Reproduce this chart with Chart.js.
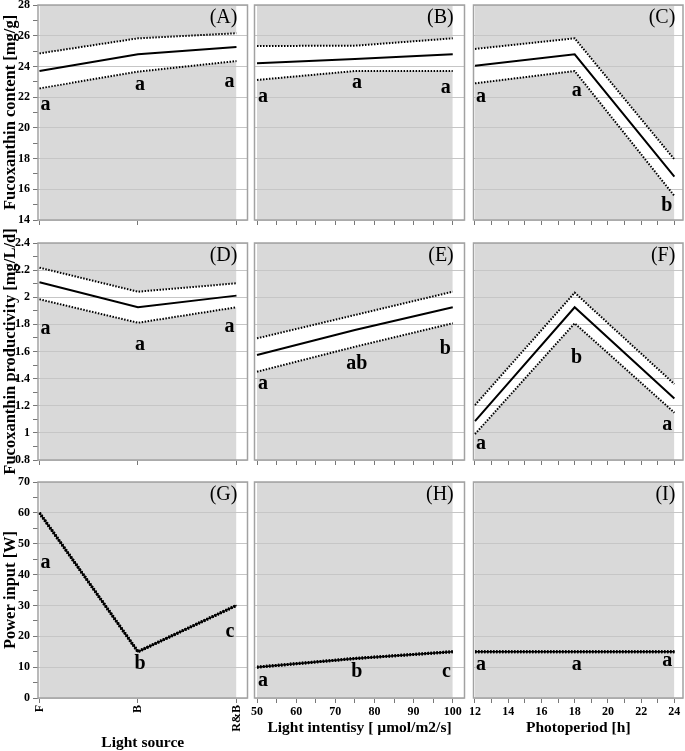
<!DOCTYPE html>
<html>
<head>
<meta charset="utf-8">
<script src="https://cdn.jsdelivr.net/npm/chart.js@4.4.0/dist/chart.umd.min.js"></script>
<style>
  html, body { margin: 0; padding: 0; background: #fff; }
  #wrap { position: relative; width: 685px; height: 751px; }
  #wrap canvas { position: absolute; left: 0; top: 0; }
</style>
</head>
<body>
<div id="wrap"></div>
<script>
// factor levels (x axes)
const lightSources = ['F', 'B', 'R&B'];
const lightIntensity = [50, 75, 100];
const photoperiod = [12, 18, 24];
const intensityTicks = [50, 60, 70, 80, 90, 100];
const periodTicks = [12, 14, 16, 18, 20, 22, 24];

// fucoxanthin content [mg/g], one inner array per factor (source, intensity, photoperiod)
const contentMean  = [[23.70, 24.79, 25.27], [24.20, 24.48, 24.79], [24.05, 24.79, 16.82]];
const contentUpper = [[24.85, 25.83, 26.16], [25.33, 25.35, 25.83], [25.14, 25.83, 17.95]];
const contentLower = [[22.57, 23.66, 24.35], [23.12, 23.70, 23.70], [22.90, 23.70, 15.57]];
const contentLetters = [['a', 'a', 'a'], ['a', 'a', 'a'], ['a', 'a', 'b']];
const contentLetterAt = [[21.5, 22.8, 23.0], [22.0, 22.9, 22.6], [22.0, 22.4, 14.9]];
const contentTicks = [14, 16, 18, 20, 22, 24, 26, 28];

// fucoxanthin productivity [mg/L/d]
const prodMean  = [[2.110, 1.926, 2.012], [1.574, 1.758, 1.926], [1.087, 1.926, 1.254]];
const prodUpper = [[2.218, 2.041, 2.103], [1.697, 1.869, 2.041], [1.205, 2.034, 1.360]];
const prodLower = [[1.985, 1.812, 1.926], [1.451, 1.635, 1.808], [0.991, 1.808, 1.149]];
const prodLetters = [['a', 'a', 'a'], ['a', 'ab', 'b'], ['a', 'b', 'a']];
const prodLetterAt = [[1.77, 1.65, 1.78], [1.365, 1.51, 1.62], [0.92, 1.55, 1.06]];
const prodTicks = [0.8, 1, 1.2, 1.4, 1.6, 1.8, 2, 2.2, 2.4];

// power input [W] (no spread)
const powerMean = [[60, 15, 30], [10, 12.8, 15], [15, 15, 15]];
const powerLetters = [['a', 'b', 'c'], ['a', 'b', 'c'], ['a', 'a', 'a']];
const powerLetterAt = [[43.8, 11.2, 21.4], [5.7, 8.4, 8.4], [10.9, 10.9, 11.9]];
const powerTicks = [0, 10, 20, 30, 40, 50, 60, 70];

const panelTags = [['(A)', '(B)', '(C)'], ['(D)', '(E)', '(F)'], ['(G)', '(H)', '(I)']];

const W = 685, H = 751;
const SERIF = "'Liberation Serif', 'Times New Roman', serif";
const GRAY = '#d9d9d9';

const rows = [
  { title: 'Fucoxanthin content [mg/g]', min: 14, max: 28, minor: 1, ticks: contentTicks,
    mean: contentMean, upper: contentUpper, lower: contentLower, letters: contentLetters, letterAt: contentLetterAt },
  { title: 'Fucoxanthin productivity [mg/L/d]', min: 0.8, max: 2.4, minor: 0.1, ticks: prodTicks,
    mean: prodMean, upper: prodUpper, lower: prodLower, letters: prodLetters, letterAt: prodLetterAt },
  { title: 'Power input [W]', min: 0, max: 70, minor: 5, ticks: powerTicks,
    mean: powerMean, upper: powerMean, lower: powerMean, letters: powerLetters, letterAt: powerLetterAt, thick: true }
];

const cols = [
  { title: 'Light source', levels: lightSources.map((_, i) => i), min: -0.015, max: 2.112,
    tickList: lightSources.map((_, i) => i), label: v => lightSources[Math.round(v)], rotate: true },
  { title: 'Light intentisy [ \u00b5mol/m2/s]', levels: lightIntensity, min: 49.36, max: 103.0, minor: 5,
    tickList: null, major: intensityTicks },
  { title: 'Photoperiod [h]', levels: photoperiod, min: 11.91, max: 24.52, minor: 1,
    tickList: null, major: periodTicks }
];

const colBox = [[38, 247.5], [254.5, 464.5], [473.5, 683]];
const rowBox = [[5, 220], [243, 460], [482, 698]];

function makeTicks(min, max, step) {
  const out = [];
  const n = Math.round((max - min) / step);
  for (let i = 0; i <= n; i++) out.push({ value: +(min + i * step).toFixed(6) });
  return out;
}
function findMajor(v, list) {
  return list.find(l => Math.abs(l - v) < 1e-6);
}

const panelPlugin = {
  id: 'panel',
  afterDraw(chart) {
    const { ctx, chartArea: a } = chart;
    const p = chart.options.plugins.panel;
    const xs = chart.scales.x, ys = chart.scales.y;
    ctx.save();
    ctx.strokeStyle = '#a2a2a2';
    ctx.lineWidth = 1.5;
    ctx.strokeRect(a.left, a.top, a.right - a.left, a.bottom - a.top);
    // significance letters
    ctx.fillStyle = '#000';
    ctx.font = 'bold 20px ' + SERIF;
    ctx.textBaseline = 'middle';
    const n = p.levels.length;
    p.levels.forEach((lv, i) => {
      let x = xs.getPixelForValue(lv);
      if (i === 0) { ctx.textAlign = 'left'; x += 1; }
      else if (i === n - 1) { ctx.textAlign = 'right'; x -= 2; }
      else { ctx.textAlign = 'center'; x += 2; }
      ctx.fillText(p.letters[i], x, ys.getPixelForValue(p.letterAt[i]));
    });
    // panel tag
    ctx.font = '20px ' + SERIF;
    ctx.textAlign = 'right';
    ctx.fillText(p.tag, xs.getPixelForValue(p.levels[n - 1]) + 1, a.top + 13);
    ctx.restore();
  }
};

const wrap = document.getElementById('wrap');

rows.forEach((row, r) => {
  cols.forEach((col, c) => {
    const canvas = document.createElement('canvas');
    canvas.width = W; canvas.height = H;
    canvas.style.width = W + 'px'; canvas.style.height = H + 'px';
    wrap.appendChild(canvas);

    const yW = c === 0 ? 38 : 0;
    const xH = r < 2 ? 5 : (c === 0 ? 52.5 : 37.5);
    const pts = arr => col.levels.map((x, i) => ({ x, y: arr[c][i] }));
    const dotted = {
      borderColor: '#000', borderWidth: row.thick ? 3 : 2, borderDash: [1.5, 1.5],
      pointRadius: 0, tension: 0, backgroundColor: GRAY
    };

    new Chart(canvas, {
      type: 'line',
      data: {
        datasets: [
          Object.assign({ data: pts(row.upper), fill: 'end' }, dotted),
          Object.assign({ data: pts(row.lower), fill: 'start' }, dotted),
          { data: pts(row.mean), fill: false, borderColor: '#000', borderWidth: row.thick ? 1.5 : 2,
            pointRadius: 0, tension: 0 }
        ]
      },
      options: {
        responsive: false,
        animation: false,
        events: [],
        layout: {
          autoPadding: false,
          padding: {
            left: colBox[c][0] - yW,
            right: W - colBox[c][1],
            top: rowBox[r][0],
            bottom: H - rowBox[r][1] - xH
          }
        },
        plugins: {
          legend: { display: false },
          tooltip: { enabled: false },
          filler: { drawTime: 'beforeDraw' },
          panel: { levels: col.levels, letters: row.letters[c], letterAt: row.letterAt[c], tag: panelTags[r][c] }
        },
        scales: {
          x: {
            type: 'linear', min: col.min, max: col.max,
            afterBuildTicks: s => {
              s.ticks = col.tickList ? col.tickList.map(v => ({ value: v })) : makeTicks(col.levels[0], col.levels[2], col.minor);
            },
            afterFit: s => { s.height = xH; s.paddingLeft = s.paddingRight = s.paddingTop = s.paddingBottom = 0; },
            grid: { drawOnChartArea: false, drawTicks: true, tickLength: 5, tickColor: '#777', tickWidth: 1 },
            border: { display: false },
            ticks: {
              display: r === 2, autoSkip: false, padding: 2, color: '#000',
              minRotation: col.rotate ? 90 : 0, maxRotation: col.rotate ? 90 : 0,
              font: { family: SERIF, size: 12, weight: 'bold' },
              callback: v => {
                if (col.label) return col.label(v);
                const m = findMajor(v, col.major);
                return m === undefined ? '' : String(m);
              }
            },
            title: {
              display: r === 2, text: col.title, color: '#000', padding: { top: 0, bottom: 0 },
              font: { family: SERIF, size: 15.5, weight: 'bold', lineHeight: 1 }
            }
          },
          y: {
            type: 'linear', min: row.min, max: row.max,
            afterBuildTicks: s => { s.ticks = makeTicks(row.min, row.max, row.minor); },
            afterFit: s => { s.width = yW; s.paddingLeft = s.paddingRight = s.paddingTop = s.paddingBottom = 0; },
            grid: {
              color: ctx => (ctx.tick && findMajor(ctx.tick.value, row.ticks) !== undefined) ? '#c6c6c6' : 'rgba(0,0,0,0)',
              lineWidth: 1, drawTicks: c === 0, tickLength: 5, tickColor: '#777', tickWidth: 1
            },
            border: { display: false },
            ticks: {
              display: c === 0, autoSkip: false, padding: 3, color: '#000',
              font: { family: SERIF, size: 12, weight: 'bold' },
              callback: v => {
                const m = findMajor(v, row.ticks);
                return m === undefined ? '' : String(m);
              }
            },
            title: {
              display: c === 0, text: row.title, color: '#000', padding: { top: 2, bottom: 0 },
              font: { family: SERIF, size: 16.5, weight: 'bold', lineHeight: 1 }
            }
          }
        }
      },
      plugins: [panelPlugin]
    });
  });
});
</script>
</body>
</html>
